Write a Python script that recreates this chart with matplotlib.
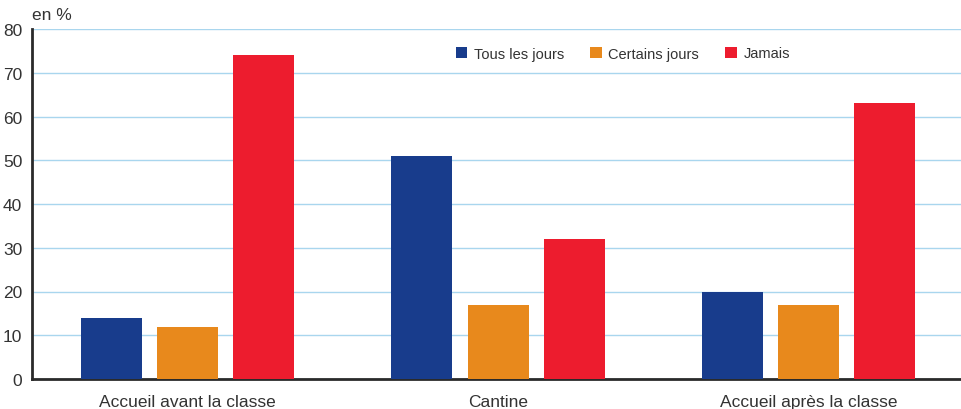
import matplotlib.pyplot as plt
import numpy as np

# Fréquentation des services périscolaires
categories = ['Accueil avant la classe', 'Cantine', 'Accueil après la classe']
series_names = ['Tous les jours', 'Certains jours', 'Jamais']
tous_les_jours = [14, 51, 20]
certains_jours = [12, 17, 17]
jamais = [74, 32, 63]
yticks = [0, 10, 20, 30, 40, 50, 60, 70, 80]

colors = ['#183c8c', '#e8891c', '#ed1c2e']
text_color = '#333333'

plt.rcParams['font.family'] = ['Liberation Sans', 'DejaVu Sans']

fig = plt.figure(figsize=(9.61, 4.10), dpi=100)
ax = fig.add_axes([32 / 961, 30 / 410, 1 - 32 / 961, 350 / 410])

x = np.arange(len(categories))
width = 0.196
step = 0.245
for i, (vals, name) in enumerate(zip([tous_les_jours, certains_jours, jamais], series_names)):
    ax.bar(x + (i - 1) * step, vals, width, color=colors[i], label=name, zorder=3)

ax.set_ylim(0, 80)
ax.set_xlim(-0.5, 2.49)
ax.set_yticks(yticks)
ax.yaxis.grid(True, color='#a9d6ee', linewidth=1, zorder=0)
ax.set_xticks(x)
ax.set_xticklabels(categories)
ax.tick_params(axis='both', length=0, labelsize=12.5, colors=text_color)
ax.tick_params(axis='x', pad=11)
ax.tick_params(axis='y', pad=7)

for side in ['top', 'right']:
    ax.spines[side].set_visible(False)
ax.spines['left'].set_color('#2a2a2a')
ax.spines['left'].set_linewidth(2)
ax.spines['bottom'].set_color('#2a2a2a')
ax.spines['bottom'].set_linewidth(2)

ax.text(0, 1.02, 'en %', transform=ax.transAxes, fontsize=12.5,
        color=text_color, ha='left', va='bottom')

ax.legend(loc='center', bbox_to_anchor=(0.636, 0.93), ncol=3, frameon=False,
          fontsize=10.5, handlelength=0.8, handleheight=0.8, handletextpad=0.45,
          columnspacing=1.8, labelcolor=text_color)

fig.savefig('out.png', dpi=100)
